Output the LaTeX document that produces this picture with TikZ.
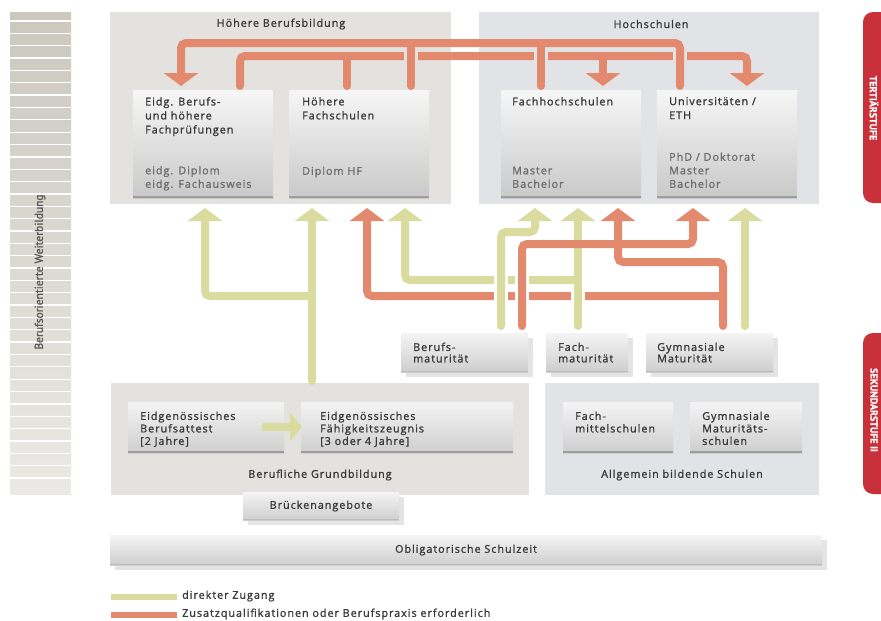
\documentclass[tikz,border=0pt]{standalone}
\usepackage{fontspec}
\setmainfont[LetterSpace=9, FakeBold=1.3]{Open Sans}
\newfontfamily\narrowf[FakeBold=1.2]{PT Sans}
\usetikzlibrary{arrows.meta,shadows}
\definecolor{ocol}{HTML}{E38A6E}
\definecolor{gcol}{HTML}{DADC9F}
\definecolor{warm}{HTML}{E4E2DE}
\definecolor{cool}{HTML}{E2E3E6}
\definecolor{tabred}{HTML}{C8313A}
\definecolor{stripetop}{HTML}{CCC8BE}
\definecolor{stripebot}{HTML}{EBE9E5}
\definecolor{dark}{HTML}{3A3A3A}
\definecolor{subgrey}{HTML}{6E6E6E}
\definecolor{btop}{HTML}{F6F6F6}
\definecolor{bbot}{HTML}{C9C9C9}
\definecolor{bline}{HTML}{9E9E9E}
\definecolor{stop}{HTML}{F4F4F4}
\definecolor{sbot}{HTML}{CECECE}
\definecolor{shadowc}{HTML}{E4E4E4}
\begin{document}
\begin{tikzpicture}[x=1pt,y=-1pt,
  panel/.style={rectangle, inner sep=0, draw=none, anchor=north west},
  tbox/.style={rectangle, inner sep=0, anchor=north west, top color=btop, bottom color=bbot,
    path picture={\draw[bline, line width=2pt] ([yshift=1pt]path picture bounding box.south west) -- ([yshift=1pt]path picture bounding box.south east);}},
  lbox/.style={tbox, top color=stop, bottom color=sbot},
  sbox/.style={rectangle, inner sep=0, anchor=north west, top color=stop, bottom color=sbot,
    general shadow={fill=shadowc, shadow xshift=5pt, shadow yshift=-5pt},
    path picture={\draw[bline!70, line width=1.2pt] ([yshift=0.6pt]path picture bounding box.south west) -- ([yshift=0.6pt]path picture bounding box.south east);}},
  ptitle/.style={inner sep=0, text=dark, font=\fontsize{10.8}{13}\selectfont},
  btitle/.style={inner sep=0, anchor=north west, align=left, text=dark, font=\fontsize{10.8}{14}\selectfont},
  bsub/.style={inner sep=0, anchor=south west, align=left, text=subgrey, text depth=3pt, font=\fontsize{10.8}{13.5}\selectfont},
  ltext/.style={inner sep=0, anchor=north west, align=left, text=dark, font=\fontsize{10.8}{12.5}\selectfont},
  stext/.style={inner sep=0, anchor=north west, align=left, text=dark, font=\fontsize{10.8}{11.5}\selectfont},
  oline/.style={draw=ocol, line width=8pt, rounded corners=5pt, line cap=round},
  gline/.style={draw=gcol, line width=8pt, rounded corners=5pt, line cap=round},
  arrowed/.style={-{Triangle[width=34pt,length=13pt]}},
  halo/.style={draw=#1, line width=14pt},
  halo/.default=white
]
\useasboundingbox (0,0) rectangle (881,621);
\fill[white] (0,0) rectangle (881,621);

% left stripe
\shade[top color=stripetop, bottom color=stripebot] (10,12) rectangle (71,494);
\foreach \i in {0,...,37} { \draw[white, line width=1.3pt] (10,21+\i*12.35) -- (71,21+\i*12.35); }
\node[rotate=90, inner sep=0, text=dark!85, font=\narrowf\fontsize{11.5}{13}\selectfont] (stripeT) at (40,272) {Berufsorientierte Weiterbildung};

% right tabs
\fill[tabred, rounded corners=10pt] (863,12) rectangle (900,203);
\fill[tabred, rounded corners=10pt] (863,333) rectangle (900,494);
\node[rotate=-90, inner sep=0, text=white, font=\narrowf\bfseries\fontsize{10}{11}\selectfont] (tabT) at (874,108) {TERTIÄRSTUFE};
\node[rotate=-90, inner sep=0, text=white, font=\narrowf\bfseries\fontsize{10}{11}\selectfont] (tabS) at (874,410) {SEKUNDARSTUFE II};

% tertiary panels
\node[panel, fill=warm, minimum width=341pt, minimum height=192pt] (hbb) at (110,12) {};
\node[panel, fill=cool, minimum width=340pt, minimum height=192pt] (hs) at (479,12) {};
\node[ptitle] (hbbT) at (281,24) {Höhere Berufsbildung};
\node[ptitle] (hsT) at (651,24) {Hochschulen};

\node[tbox, minimum width=140pt, minimum height=108pt] (ebp) at (133,90) {};
\node[tbox, minimum width=140pt, minimum height=108pt] (hf) at (289,90) {};
\node[tbox, minimum width=140pt, minimum height=108pt] (fh) at (501,90) {};
\node[tbox, minimum width=140pt, minimum height=108pt] (uni) at (657,90) {};

\node[btitle] (ebpT) at (145,97) {Eidg. Berufs-\\und höhere\\Fachprüfungen};
\node[bsub] (ebpS) at (145,191) {eidg. Diplom\\eidg. Fachausweis};
\node[btitle] (hfT) at (302,97) {Höhere\\Fachschulen};
\node[bsub] (hfS) at (302,178) {Diplom HF};
\node[btitle] (fhT) at (512,97) {Fachhochschulen};
\node[bsub] (fhS) at (512,191) {Master\\Bachelor};
\node[btitle] (uniT) at (669,97) {Universitäten /\\ETH};
\node[bsub] (uniS) at (669,191) {PhD / Doktorat\\Master\\Bachelor};

% tertiary connectors
\coordinate (b1) at (240,86); \coordinate (b2) at (240,56); \coordinate (b3) at (747,56); \coordinate (b4) at (747,86);
\coordinate (b5) at (347,86); \coordinate (b6) at (347,56); \coordinate (b7) at (603,56); \coordinate (b8) at (603,86);
\draw[oline, arrowed] (b1) -- (b2) -- (b3) -- (b4);
\draw[oline] (b5) -- (b6);
\draw[oline, arrowed] (b7) -- (b8);
\draw[halo=warm] (411,50) -- (411,62);
\draw[halo=cool] (541,50) -- (541,62);
\draw[halo=cool] (680,50) -- (680,62);
\coordinate (a1) at (680,86); \coordinate (a2) at (680,43); \coordinate (a3) at (181,43); \coordinate (a4) at (181,86);
\coordinate (a5) at (411,86); \coordinate (a6) at (411,43); \coordinate (a7) at (541,86); \coordinate (a8) at (541,43);
\draw[oline, arrowed] (a1) -- (a2) -- (a3) -- (a4);
\draw[oline] (a5) -- (a6);
\draw[oline] (a7) -- (a8);

% secondary boxes
\node[sbox, minimum width=127pt, minimum height=39pt] (bm) at (401,333) {};
\node[sbox, minimum width=82pt, minimum height=39pt] (fm) at (546,333) {};
\node[sbox, minimum width=127pt, minimum height=39pt] (gm) at (646,333) {};
\node[stext] (bmT) at (413,342.5) {Berufs-\\maturität};
\node[stext] (fmT) at (558,342.5) {Fach-\\maturität};
\node[stext] (gmT) at (657,342.5) {Gymnasiale\\Maturität};

% lower panels
\node[panel, fill=warm, minimum width=418pt, minimum height=112pt] (bg) at (111,383) {};
\node[panel, fill=cool, minimum width=274pt, minimum height=112pt] (abs) at (545,383) {};
\node[lbox, minimum width=156pt, minimum height=51pt] (eba) at (128,402) {};
\node[lbox, minimum width=212pt, minimum height=51pt] (efz) at (301,402) {};
\node[lbox, minimum width=110pt, minimum height=51pt] (fms) at (563,402) {};
\node[lbox, minimum width=112pt, minimum height=51pt] (gms) at (690,402) {};
\node[ltext] (ebaT) at (140,411.5) {Eidgenössisches\\Berufsattest\\{[}2 Jahre{]}};
\node[ltext] (efzT) at (320,411.5) {Eidgenössisches\\Fähigkeitszeugnis\\{[}3 oder 4 Jahre{]}};
\node[ltext] (fmsT) at (575,411.5) {Fach-\\mittelschulen};
\node[ltext] (gmsT) at (702,411.5) {Gymnasiale\\Maturitäts-\\schulen};
\node[ptitle] (bgT) at (320,475) {Berufliche Grundbildung};
\node[ptitle] (absT) at (682,475) {Allgemein bildende Schulen};
\coordinate (e1) at (262,427); \coordinate (e2) at (302,427);
\draw[draw=gcol, line width=8pt, -{Triangle[width=28pt,length=12pt]}] (e1) -- (e2);

\node[sbox, minimum width=156pt, minimum height=28pt] (brk) at (243,492) {};
\node[ptitle] (brkT) at (321,506) {Brückenangebote};
\node[sbox, minimum width=712pt, minimum height=30pt] (obl) at (110,535) {};
\node[ptitle] (oblT) at (466,550) {Obligatorische Schulzeit};

% lower connectors
% Gymnasiale (orange)
\coordinate (g1) at (723,326); \coordinate (g2) at (723,262); \coordinate (g3) at (618,262); \coordinate (g4) at (618,208);
\coordinate (g5) at (723,296); \coordinate (g6) at (367,296); \coordinate (g7) at (367,208);
\draw[oline, arrowed] (g1) -- (g2) -- (g3) -- (g4);
\draw[oline, arrowed] (g5) -- (g6) -- (g7);
% Gymnasiale (green)
\coordinate (gg1) at (745,326); \coordinate (gg2) at (745,208);
\draw[gline, arrowed] (gg1) -- (gg2);
% Fachmaturitaet (green)
\coordinate (f1) at (578,326); \coordinate (f2) at (578,208);
\coordinate (f3) at (578,280); \coordinate (f4) at (405,280); \coordinate (f5) at (405,208);
\draw[gline, arrowed] (f3) -- (f4) -- (f5);
\draw[halo] (578,290) -- (578,302);
\draw[gline, arrowed] (f1) -- (f2);
% Berufsmaturitaet
\draw[halo] (501,273) -- (501,303);
\draw[halo] (522,273) -- (522,303);
\coordinate (m1) at (501,326); \coordinate (m2) at (501,232); \coordinate (m3) at (535,232); \coordinate (m4) at (535,208);
\draw[gline, arrowed] (m1) -- (m2) -- (m3) -- (m4);
\coordinate (n1) at (522,326); \coordinate (n2) at (522,244); \coordinate (n3) at (693,244); \coordinate (n4) at (693,208);
\draw[oline, arrowed] (n1) -- (n2) -- (n3) -- (n4);
% Grundbildung (green)
\coordinate (p1) at (312,381); \coordinate (p2) at (312,208);
\coordinate (p3) at (312,296); \coordinate (p4) at (205,296); \coordinate (p5) at (205,208);
\draw[gline, arrowed] (p1) -- (p2);
\draw[gline, arrowed] (p3) -- (p4) -- (p5);

% legend
\node[inner sep=0, fill=gcol, minimum width=66pt, minimum height=6pt, anchor=west] (lg1) at (111,597) {};
\node[inner sep=0, fill=ocol, minimum width=66pt, minimum height=6pt, anchor=west] (lg2) at (111,615) {};
\node[inner sep=0, anchor=west, text=dark, font=\fontsize{10.8}{12}\selectfont] (lg1T) at (182,596) {direkter Zugang};
\node[inner sep=0, anchor=west, text=dark, font=\fontsize{10.8}{12}\selectfont] (lg2T) at (182,614) {Zusatzqualifikationen oder Berufspraxis erforderlich};
\end{tikzpicture}
\end{document}
